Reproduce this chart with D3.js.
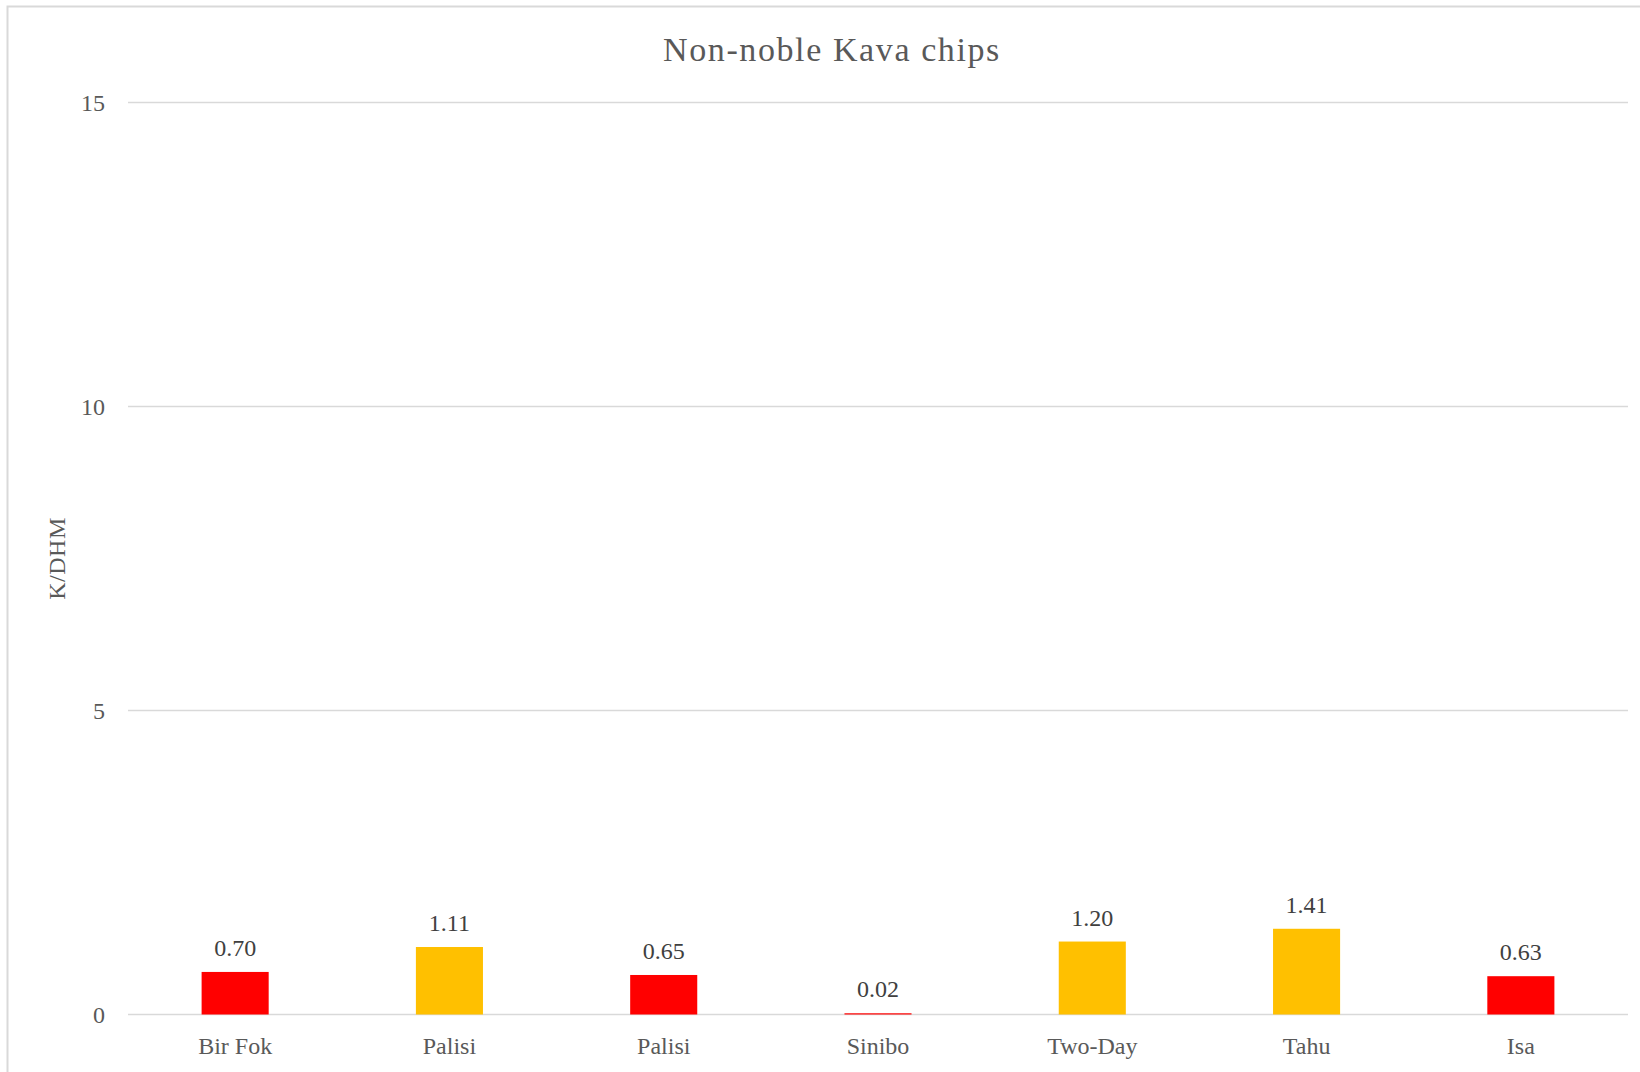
<!DOCTYPE html>
<html>
<head>
<meta charset="utf-8">
<script src="https://cdn.jsdelivr.net/npm/d3@7"></script>
<style>
  html, body { margin: 0; padding: 0; background: #fff; }
  svg { display: block; }
  text { font-family: "Liberation Serif", "DejaVu Serif", serif; }
</style>
</head>
<body>
<svg id="chart" width="1640" height="1072"></svg>
<script>
// Kava chip K/DHM ratios by cultivar
const categories = ["Bir Fok", "Palisi", "Palisi", "Sinibo", "Two-Day", "Tahu", "Isa"];
const ratios = [0.70, 1.11, 0.65, 0.02, 1.20, 1.41, 0.63];
const grades = ["red", "amber", "red", "red", "amber", "amber", "red"];
const yTicks = [0, 5, 10, 15];

const gradeColor = { red: "#FF0000", amber: "#FFC000" };

const W = 1640, H = 1072;
const plot = { left: 128, right: 1628, top: 102.5, bottom: 1014.5 };

const svg = d3.select("#chart");

// outer chart-area frame (left and top edges visible)
svg.append("path")
  .attr("d", `M7.5,${H} L7.5,6.5 L${W},6.5`)
  .attr("fill", "none")
  .attr("stroke", "#d9d9d9")
  .attr("stroke-width", 2);

const x = d3.scaleBand()
  .domain(d3.range(categories.length))
  .range([plot.left, plot.right])
  .paddingInner(0.687)
  .paddingOuter(0.3435);

const y = d3.scaleLinear()
  .domain([0, 15])
  .range([plot.bottom, plot.top]);

// horizontal gridlines
svg.append("g")
  .selectAll("line")
  .data(yTicks)
  .join("line")
  .attr("x1", plot.left)
  .attr("x2", plot.right)
  .attr("y1", d => y(d))
  .attr("y2", d => y(d))
  .attr("stroke", "#d9d9d9")
  .attr("stroke-width", 1.5);

// y axis tick labels
const yAxis = d3.axisLeft(y).tickValues(yTicks).tickSize(0).tickPadding(0);
const gy = svg.append("g")
  .attr("transform", `translate(105,0)`)
  .call(yAxis);
gy.select(".domain").remove();
gy.selectAll("text")
  .attr("fill", "#595959")
  .style("font-size", "24px")
  .style("font-family", "'Liberation Serif', serif");

// bars
svg.append("g")
  .selectAll("rect")
  .data(ratios)
  .join("rect")
  .attr("x", (d, i) => x(i))
  .attr("width", x.bandwidth())
  .attr("y", d => y(d))
  .attr("height", d => y(0) - y(d))
  .attr("fill", (d, i) => gradeColor[grades[i]]);

// value labels
svg.append("g")
  .selectAll("text")
  .data(ratios)
  .join("text")
  .attr("x", (d, i) => x(i) + x.bandwidth() / 2)
  .attr("y", d => y(d) - 16)
  .attr("text-anchor", "middle")
  .attr("fill", "#404040")
  .style("font-size", "24px")
  .text(d => d.toFixed(2));

// category axis labels
const xAxis = d3.axisBottom(x).tickFormat(i => categories[i]).tickSize(0).tickPadding(0);
const gx = svg.append("g")
  .attr("transform", `translate(0,1054)`)
  .call(xAxis);
gx.select(".domain").remove();
gx.selectAll("text")
  .attr("dy", 0)
  .attr("fill", "#595959")
  .style("font-size", "24px")
  .style("font-family", "'Liberation Serif', serif");

// title
svg.append("text")
  .attr("x", 832)
  .attr("y", 61)
  .attr("text-anchor", "middle")
  .attr("fill", "#595959")
  .style("font-size", "34px")
  .style("letter-spacing", "1.6px")
  .text("Non-noble Kava chips");

// y axis title
svg.append("text")
  .attr("transform", `translate(65,${(plot.top + plot.bottom) / 2}) rotate(-90)`)
  .attr("text-anchor", "middle")
  .attr("fill", "#595959")
  .style("font-size", "24px")
  .style("letter-spacing", "0.5px")
  .text("K/DHM");
</script>
</body>
</html>
